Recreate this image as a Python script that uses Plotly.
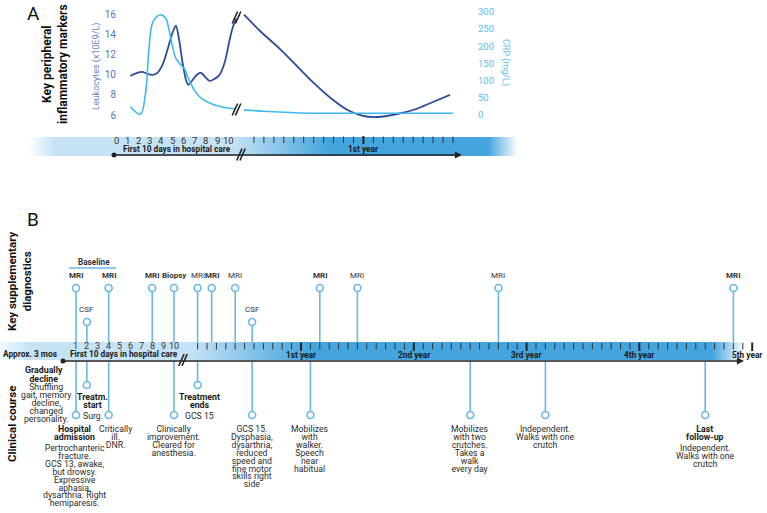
import plotly.graph_objects as go

W, H = 767, 513
FONT = "Roboto"

# ---------------- DATA ----------------
# Panel A - key peripheral inflammatory markers
leuk_days = [1.26, 1.86, 2.32, 2.77, 3.22, 3.67, 4.12, 4.57, 5.02, 5.32, 5.61, 5.92, 6.22, 6.42,
             6.82, 7.27, 7.57, 7.93, 8.32, 8.77, 9.22, 9.67, 10.12, 10.42, 10.72]
leuk_day_vals = [9.9, 10.2, 10.3, 10.1, 10.0, 10.2, 11.0, 12.5, 14.2, 14.9, 13.5, 11.2, 9.5, 9.0,
                 9.5, 10.1, 10.2, 9.8, 9.4, 9.6, 10.0, 11.2, 13.5, 14.8, 15.6]
leuk_months = [0, 1.7, 3.7, 5.4, 7.0, 8.7, 10.4, 12.0, 13.4, 15.4, 17.0, 19.0, 20.7]
leuk_month_vals = [16.0, 14.3, 12.5, 10.8, 9.2, 7.7, 6.5, 5.9, 5.8, 6.1, 6.5, 7.3, 8.0]

crp_days = [1.26, 2.16, 2.61, 2.91, 3.22, 3.67, 3.96, 4.41, 4.71, 5.02, 5.32, 5.77, 6.06, 6.37,
            6.96, 7.57, 9.07, 10.57]
crp_day_vals = [24, 2, 64, 189, 267, 288, 292, 282, 248, 199, 165, 146, 136, 112, 73, 49, 26, 18]
crp_months = [0, 2.4, 5.7, 12, 21]
crp_month_vals = [15, 10, 6, 5, 5]

leuk_ticks = [6, 8, 10, 12, 14, 16]
crp_ticks = [0, 50, 100, 150, 200, 250, 300]

a_day_labels = list(range(0, 11))
a_month_ticks = list(range(1, 22))

# Panel B - timeline
b_day_labels = list(range(1, 11))
b_month_ticks = list(range(1, 61))
year_months = [12, 24, 36, 48, 60]
year_labels = ["1st year", "2nd year", "3rd year", "4th year", "5th year"]

diag_label = ["MRI", "CSF", "MRI", "MRI", "Biopsy", "MRI", "MRI", "MRI", "CSF", "MRI", "MRI", "MRI", "MRI"]
diag_phase = ["day", "day", "day", "day", "day", "month", "month", "month", "month", "month", "month", "month", "month"]
diag_time = [1, 2, 4, 8, 10, 1, 2.5, 5, 6.8, 14, 18, 33, 58]
diag_bold = [True, False, True, True, True, False, True, False, False, True, False, False, True]

clin_phase = ["day", "day", "day", "day", "month", "month", "month", "month", "month", "month"]
clin_time = [1, 2, 4, 10, 1, 6.8, 13, 30, 38, 55]
clin_upper = [False, True, False, False, True, False, False, False, False, False]
clin_head = [["Hospital", "admission"], ["Treatm.", "start"], [], [], ["Treatment", "ends"],
             [], [], [], [], ["Last", "follow-up"]]
clin_body = [
    ["Pertrochanteric", "fracture.", "GCS 13, awake,", "but drowsy.", "Expressive", "aphasia,",
     "dysarthria. Right", "hemiparesis."],
    ["Surg."],
    ["Critically", "ill.", "DNR."],
    ["Clinically", "improvement.", "Cleared for", "anesthesia."],
    ["GCS 15"],
    ["GCS 15.", "Dysphasia,", "dysarthria,", "reduced", "speed and", "fine motor", "skills right", "side"],
    ["Mobilizes", "with", "walker.", "Speech", "near", "habitual"],
    ["Mobilizes", "with two", "crutches.", "Takes a", "walk", "every day"],
    ["Independent.", "Walks with one", "crutch"],
    ["Independent.", "Walks with one", "crutch"],
]
pre_head = ["Gradually", "decline"]
pre_body = ["Shuffling", "gait, memory", "decline,", "changed", "personality."]

# ---------------- STYLE / LAYOUT CONSTANTS ----------------
LEUK_C = "#2e4d98"
LEUK_TXT = "#5574b6"
CRP_C = "#3db8f2"
CRP_TXT = "#58bdf0"
EV_C = "#68b8e8"
TXT = "#262626"
LIGHT = "198,227,246"
DARK = "68,164,222"

A_DAY0, A_DAYK = 116.3, 11.2
A_MON0, A_MONK = 244.0, 9.95
B_DAY0, B_DAYK = 65.1, 10.89
B_MON0, B_MONK = 188.2, 9.4


def fx(px):
    return px / W


def fy(py):
    return 1 - py / H


def rng(dom, p0, k):
    return [(dom[0] - p0) / k, (dom[1] - p0) / k]


A_DAY_DOM = (106, 238)
A_MON_DOM = (238, 478)
B_DAY_DOM = (45, 183)
B_MON_DOM = (183, 767)

fig = go.Figure()


def band(x0, x1, y0, y1, stops):
    cs = [[(p - x0) / (x1 - x0), c] for p, c in stops]
    fig.add_trace(go.Scatter(
        x=[x0, x1, x1, x0, x0], y=[y0, y0, y1, y1, y0], xaxis="x", yaxis="y",
        mode="lines", line=dict(width=0), fill="toself",
        fillgradient=dict(type="horizontal", colorscale=cs, start=x0, stop=x1),
        hoverinfo="skip", showlegend=False))


# timeline bands
band(28, 518, 137, 156, [(28, f"rgba({LIGHT},0)"), (55, f"rgba({LIGHT},1)"), (232, f"rgba({LIGHT},1)"),
                         (330, f"rgba({DARK},1)"), (488, f"rgba({DARK},1)"), (518, f"rgba({DARK},0)")])
band(0, 745, 342, 360, [(0, f"rgba({LIGHT},0.2)"), (30, f"rgba({LIGHT},1)"), (190, f"rgba({LIGHT},1)"),
                        (310, f"rgba({DARK},1)"), (712, f"rgba({DARK},1)"), (745, f"rgba({DARK},0)")])

# start dots of timeline arrows
fig.add_trace(go.Scatter(x=[114, 63], y=[155, 361], xaxis="x", yaxis="y", mode="markers",
                         marker=dict(size=5, color="#222"), hoverinfo="skip", showlegend=False))

# ---- Panel A curves
fig.add_trace(go.Scatter(x=crp_days, y=crp_day_vals, xaxis="x2", yaxis="y3", mode="lines",
                         line=dict(color=CRP_C, width=1.6, shape="spline", smoothing=1.0),
                         hoverinfo="skip", showlegend=False))
fig.add_trace(go.Scatter(x=crp_months, y=crp_month_vals, xaxis="x4", yaxis="y3", mode="lines",
                         line=dict(color=CRP_C, width=1.6, shape="spline", smoothing=1.0),
                         hoverinfo="skip", showlegend=False))
fig.add_trace(go.Scatter(x=leuk_days, y=leuk_day_vals, xaxis="x2", yaxis="y2", mode="lines",
                         line=dict(color=LEUK_C, width=1.8, shape="spline", smoothing=0.8),
                         hoverinfo="skip", showlegend=False))
fig.add_trace(go.Scatter(x=leuk_months, y=leuk_month_vals, xaxis="x4", yaxis="y2", mode="lines",
                         line=dict(color=LEUK_C, width=1.8, shape="spline", smoothing=1.0),
                         hoverinfo="skip", showlegend=False))


def tick_trace(months, xa, y0, y1, bold_set, ybold0, ybold1):
    xs, ys, xb, yb = [], [], [], []
    for m in months:
        if m in bold_set:
            xb += [m, m, None]
            yb += [ybold0, ybold1, None]
        else:
            xs += [m, m, None]
            ys += [y0, y1, None]
    fig.add_trace(go.Scatter(x=xs, y=ys, xaxis=xa, yaxis="y", mode="lines",
                             line=dict(color="#333", width=1), hoverinfo="skip", showlegend=False))
    fig.add_trace(go.Scatter(x=xb, y=yb, xaxis=xa, yaxis="y", mode="lines",
                             line=dict(color="#222", width=2), hoverinfo="skip", showlegend=False))


tick_trace(a_month_ticks, "x4", 136.5, 143, {12}, 136, 144)
tick_trace(b_month_ticks, "x5", 343, 349.5, set(year_months), 342.5, 351)

# ---- Panel B events
DIAG_HI, DIAG_LO = 288, 322
CLIN_HI, CLIN_LO = 385, 415
R = 3.6
BAND_TOP, ARROW_Y = 342, 361

for ph, xa in (("day", "x3"), ("month", "x5")):
    lx, ly, cx, cy = [], [], [], []
    for lab, p, t in zip(diag_label, diag_phase, diag_time):
        if p != ph:
            continue
        yc = DIAG_LO if lab == "CSF" else DIAG_HI
        lx += [t, t, None]
        ly += [yc + R, BAND_TOP, None]
        cx.append(t)
        cy.append(yc)
    for p, t, up in zip(clin_phase, clin_time, clin_upper):
        if p != ph:
            continue
        yc = CLIN_HI if up else CLIN_LO
        lx += [t, t, None]
        ly += [ARROW_Y, yc - R, None]
        cx.append(t)
        cy.append(yc)
    fig.add_trace(go.Scatter(x=lx, y=ly, xaxis=xa, yaxis="y", mode="lines",
                             line=dict(color=EV_C, width=1.6), hoverinfo="skip", showlegend=False,
                             cliponaxis=False))
    fig.add_trace(go.Scatter(x=cx, y=cy, xaxis=xa, yaxis="y", mode="markers",
                             marker=dict(size=7, color="white", line=dict(color=EV_C, width=1.6)),
                             hoverinfo="skip", showlegend=False, cliponaxis=False))

# ---------------- ANNOTATIONS ----------------
ann = []


def txt(x, y, s, size=8, bold=False, color=TXT, xref="x", angle=0, xanchor="center", xshift=0):
    ann.append(dict(x=x, y=y, xref=xref, yref="y", text=f"<b>{s}</b>" if bold else s,
                    showarrow=False, xanchor=xanchor, yanchor="middle", textangle=angle,
                    xshift=xshift, font=dict(family=FONT, size=size, color=color)))


def block(x, y_first, lines, size, spacing, bold=False, color=TXT, xref="x", xshift=0):
    """Multi-line centred text block with tight line spacing (one text element)."""
    if not lines:
        return y_first
    base = spacing / 1.3  # plotly line spacing is 1.3em of the base font
    parts = []
    for ln in lines:
        s = f'<span style="font-size:{size}px">{ln}</span>'
        parts.append(f"<b>{s}</b>" if bold else s)
    yc = y_first + (len(lines) - 1) * spacing / 2
    ann.append(dict(x=x, y=yc, xref=xref, yref="y", text="<br>".join(parts), showarrow=False,
                    xanchor="center", yanchor="middle", align="center", xshift=xshift,
                    font=dict(family=FONT, size=base, color=color)))
    return y_first + len(lines) * spacing


# panel letters and section titles
txt(33, 13, "A", size=19, color="#111")
txt(33, 219, "B", size=19, color="#111")
txt(55, 64, "Key peripheral<br>inflammatory markers", size=12, bold=True, color="#111", angle=-90)
txt(19, 282, "Key supplementary<br>diagnostics", size=11.5, bold=True, color="#111", angle=-90)
txt(12, 424, "Clinical course", size=11.5, bold=True, color="#111", angle=-90)

# axis titles
txt(96, 67, "Leukocytes (x10E9/L)", size=9, color="#6a88c6", angle=-90)
txt(506, 62, "CRP (mg/L)", size=9, color=CRP_TXT, angle=90)

# panel A timeline labels
for d in a_day_labels:
    txt(d, 140.5, str(d), size=9.5, color="#333", xref="x2")
txt(176.5, 148.5, "First 10 days in hospital care", size=8.3, bold=True, color="#1a1a1a")
txt(12, 148.5, "1st year", size=8.3, bold=True, color="#1a1a1a", xref="x4")

# panel B timeline labels
for d in b_day_labels:
    txt(d, 345.6, str(d), size=9, color="#333", xref="x3")
txt(123.5, 354.2, "First 10 days in hospital care", size=8.3, bold=True, color="#1a1a1a")
txt(30, 353.5, "Approx. 3 mos", size=8.3, bold=True, color="#1a1a1a")
for m, lab in zip(year_months, year_labels):
    txt(m, 354.5, lab, size=8.3, bold=True, color="#1a1a1a", xref="x5",
        xshift=(-5 if m == 60 else 0))

# Baseline bracket
txt(94, 261.5, "Baseline", size=8.2, bold=True, color="#333")
fig.add_shape(type="line", x0=69, x1=116, y0=268, y1=268, xref="x", yref="y",
              line=dict(color=EV_C, width=1.5))

# diagnostics labels
for lab, p, t, b in zip(diag_label, diag_phase, diag_time, diag_bold):
    yc = DIAG_LO if lab == "CSF" else DIAG_HI
    txt(t, yc - 13, lab, size=8, bold=b, color="#333", xref="x3" if p == "day" else "x5")

# clinical texts
SP = 7.9
BODY = 8.7
HEAD = 8.8
clin_xshift = [-1, 6, 7, -1, 2, 0, 0, 0, 0, 0]
for p, t, up, hd, bd, xs in zip(clin_phase, clin_time, clin_upper, clin_head, clin_body, clin_xshift):
    xa = "x3" if p == "day" else "x5"
    yc = CLIN_HI if up else CLIN_LO
    y = yc + (11.5 if up else 14)
    if hd:
        y = block(t, y, hd, HEAD, 8.3, bold=True, color="#1a1a1a", xref=xa, xshift=xs) + 2.7
    block(t, y, bd, BODY, SP, color="#2a2a2a", xref=xa, xshift=xs)

# pre-admission text
y = block(44, 370, pre_head, HEAD, 8.5, bold=True, color="#1a1a1a")
block(46, y, pre_body, BODY, SP, color="#2a2a2a")

# timeline arrows
for x0, x1, yy in ((114, 462, 155), (63, 744, 361)):
    ann.append(dict(x=x1, y=yy, ax=x0, ay=yy, xref="x", yref="y", axref="x", ayref="y",
                    showarrow=True, arrowhead=2, arrowsize=1.1, arrowwidth=1.3,
                    arrowcolor="#222", text=""))

fig.update_layout(annotations=ann)


# break marks //
def brk(xc, yc, h=6, gap=3.2, color="#222"):
    for dx in (-gap / 2, gap / 2):
        fig.add_shape(type="line", x0=xc + dx - h * 0.45, y0=yc + h, x1=xc + dx + h * 0.45, y1=yc - h,
                      xref="x", yref="y", line=dict(color=color, width=1.6))


brk(236.5, 17.5)
brk(236.5, 109.5)
brk(241, 154.5)
brk(183, 360)

fig.update_layout(
    width=W, height=H, margin=dict(l=0, r=0, t=0, b=0),
    paper_bgcolor="white", plot_bgcolor="rgba(0,0,0,0)", showlegend=False,
    xaxis=dict(domain=[0, 1], range=[0, W], visible=False),
    yaxis=dict(domain=[0, 1], range=[H, 0], visible=False),
    xaxis2=dict(domain=[fx(A_DAY_DOM[0]), fx(A_DAY_DOM[1])], range=rng(A_DAY_DOM, A_DAY0, A_DAYK),
                visible=False, anchor="y2"),
    xaxis4=dict(domain=[fx(A_MON_DOM[0]), fx(A_MON_DOM[1])], range=rng(A_MON_DOM, A_MON0, A_MONK),
                visible=False, anchor="y2"),
    xaxis3=dict(domain=[fx(B_DAY_DOM[0]), fx(B_DAY_DOM[1])], range=rng(B_DAY_DOM, B_DAY0, B_DAYK),
                visible=False, anchor="y"),
    xaxis5=dict(domain=[fx(B_MON_DOM[0]), fx(B_MON_DOM[1])], range=rng(B_MON_DOM, B_MON0, B_MONK),
                visible=False, anchor="y"),
    yaxis2=dict(domain=[fy(125), fy(5)], range=[16 - (125 - 14.7) / 10.03, 16 + (14.7 - 5) / 10.03],
                anchor="free", position=fx(116), tickvals=leuk_ticks, ticks="", showgrid=False,
                zeroline=False, showline=False, tickfont=dict(family=FONT, size=10, color=LEUK_TXT)),
    yaxis3=dict(overlaying="y2", side="right", anchor="free", position=fx(477),
                range=[(115 - 125) * 300 / 103, (115 - 5) * 300 / 103], tickvals=crp_ticks, ticks="",
                showgrid=False, zeroline=False, showline=False,
                tickfont=dict(family=FONT, size=9.5, color=CRP_TXT)),
)

fig.write_html("out.html")
